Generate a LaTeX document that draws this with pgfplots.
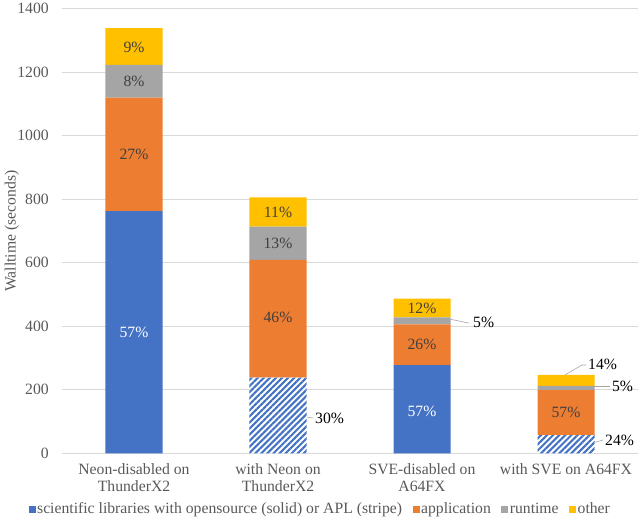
\documentclass[border=0pt]{standalone}
\usepackage{fontspec}
\setmainfont{Liberation Serif}
\usepackage{pgfplots}
\pgfplotsset{compat=1.18}
\usetikzlibrary{patterns.meta}
\definecolor{cblue}{HTML}{4472C4}
\definecolor{corange}{HTML}{ED7D31}
\definecolor{cgray}{HTML}{A5A5A5}
\definecolor{cyellow}{HTML}{FFC000}
\definecolor{gridc}{HTML}{D9D9D9}
\definecolor{tickc}{HTML}{595959}
\definecolor{labc}{HTML}{404040}
\begin{document}
\begin{tikzpicture}[font=\fontsize{15.7}{17}\selectfont]
\path[use as bounding box] (-62pt,-66.7pt) rectangle (578pt,453.3pt);
\begin{axis}[
  at={(0,0)}, anchor=south west, scale only axis,
  width=576pt, height=444.5pt,
  ybar stacked, bar width=57pt,
  xmin=-0.5, xmax=3.5, ymin=0, ymax=1400,
  xtick={0,1,2,3},
  xticklabels={{Neon-disabled on\\ThunderX2},{with Neon on\\ThunderX2},{SVE-disabled on\\A64FX},{with SVE on A64FX}},
  xticklabel style={align=center, text=tickc, font=\fontsize{15.7}{16.5}\selectfont, anchor=north, yshift=-7pt},
  ytick={0,200,...,1400},
  yticklabel style={text=tickc, inner sep=0pt, anchor=east, xshift=-13pt},
  /pgf/number format/assume math mode=true,
  /pgf/number format/1000 sep={},
  ymajorgrids, major grid style={gridc, line width=0.8pt},
  axis line style={draw=none}, major tick length=0pt,
  ylabel={Walltime (seconds)},
  y label style={at={(axis description cs:-0.087,0.5)}, anchor=center, text=tickc},
  legend columns=-1,
  legend style={at={(axis description cs:0.448,-0.1253)}, anchor=center, draw=none, fill=none,
    text=tickc, font=\fontsize{15.7}{17}\selectfont,
    /tikz/every even column/.append style={column sep=9pt},
    nodes={inner sep=1.5pt}},
  lg/.style={legend image code/.code={\fill[##1] (0pt,-3.5pt) rectangle (7pt,3.5pt);}},
  clip=false,
]
\addplot[fill=cblue, draw=none, lg] coordinates {(0,763) (1,0) (2,278) (3,0)};
\addlegendentry{scientific libraries with opensource (solid) or APL (stripe)}
\addplot[forget plot, fill=white, draw=none,
  postaction={pattern={Lines[angle=45,distance=4.3pt,line width=2.1pt]}, pattern color=cblue}]
  coordinates {(0,0) (1,238) (2,0) (3,57)};
\addplot[fill=corange, draw=none, lg] coordinates {(0,357) (1,371) (2,128) (3,142)};
\addlegendentry{application}
\addplot[fill=cgray, draw=none, lg] coordinates {(0,103) (1,105) (2,22) (3,13)};
\addlegendentry{runtime}
\addplot[fill=cyellow, draw=none, lg] coordinates {(0,116) (1,92) (2,59) (3,35)};
\addlegendentry{other}

\coordinate (l1) at (axis cs:0,381);
\coordinate (l2) at (axis cs:0,941);
\coordinate (l3) at (axis cs:0,1171);
\coordinate (l4) at (axis cs:0,1280);
\coordinate (l5) at (axis cs:1,427);
\coordinate (l6) at (axis cs:1,661);
\coordinate (l7) at (axis cs:1,760);
\coordinate (l8) at (axis cs:2,132);
\coordinate (l9) at (axis cs:2,342);
\coordinate (l10) at (axis cs:2,458);
\coordinate (l11) at (axis cs:3,128);
% outside labels with leader lines
\draw[cgray, line width=0.6pt] (axis cs:1.2,114) -- (axis cs:1.245,111);
\node[anchor=west, inner sep=0pt, text=black] at (axis cs:1.257,111) {30\%};
\draw[cgray, line width=0.6pt] (axis cs:2.2,422) -- (axis cs:2.326,410);
\node[anchor=west, inner sep=0pt, text=black] at (axis cs:2.354,413) {5\%};
\draw[cgray, line width=0.6pt] (axis cs:2.993,247) -- (axis cs:3.111,278) -- (axis cs:3.139,278);
\node[anchor=west, inner sep=0pt, text=black] at (axis cs:3.153,281) {14\%};
\draw[cgray, line width=0.6pt] (axis cs:3.1875,212) -- (axis cs:3.306,212);
\node[anchor=west, inner sep=0pt, text=black] at (axis cs:3.319,212) {5\%};
\draw[cgray, line width=0.6pt] (axis cs:3.1875,33) -- (axis cs:3.257,42);
\node[anchor=west, inner sep=0pt, text=black] at (axis cs:3.271,42) {24\%};
\end{axis}
\node[text=white] at (l1) {57\%};
\node[text=labc] at (l2) {27\%};
\node[text=labc] at (l3) {8\%};
\node[text=labc] at (l4) {9\%};
\node[text=labc] at (l5) {46\%};
\node[text=labc] at (l6) {13\%};
\node[text=labc] at (l7) {11\%};
\node[text=white] at (l8) {57\%};
\node[text=labc] at (l9) {26\%};
\node[text=labc] at (l10) {12\%};
\node[text=labc] at (l11) {57\%};
\end{tikzpicture}
\end{document}
